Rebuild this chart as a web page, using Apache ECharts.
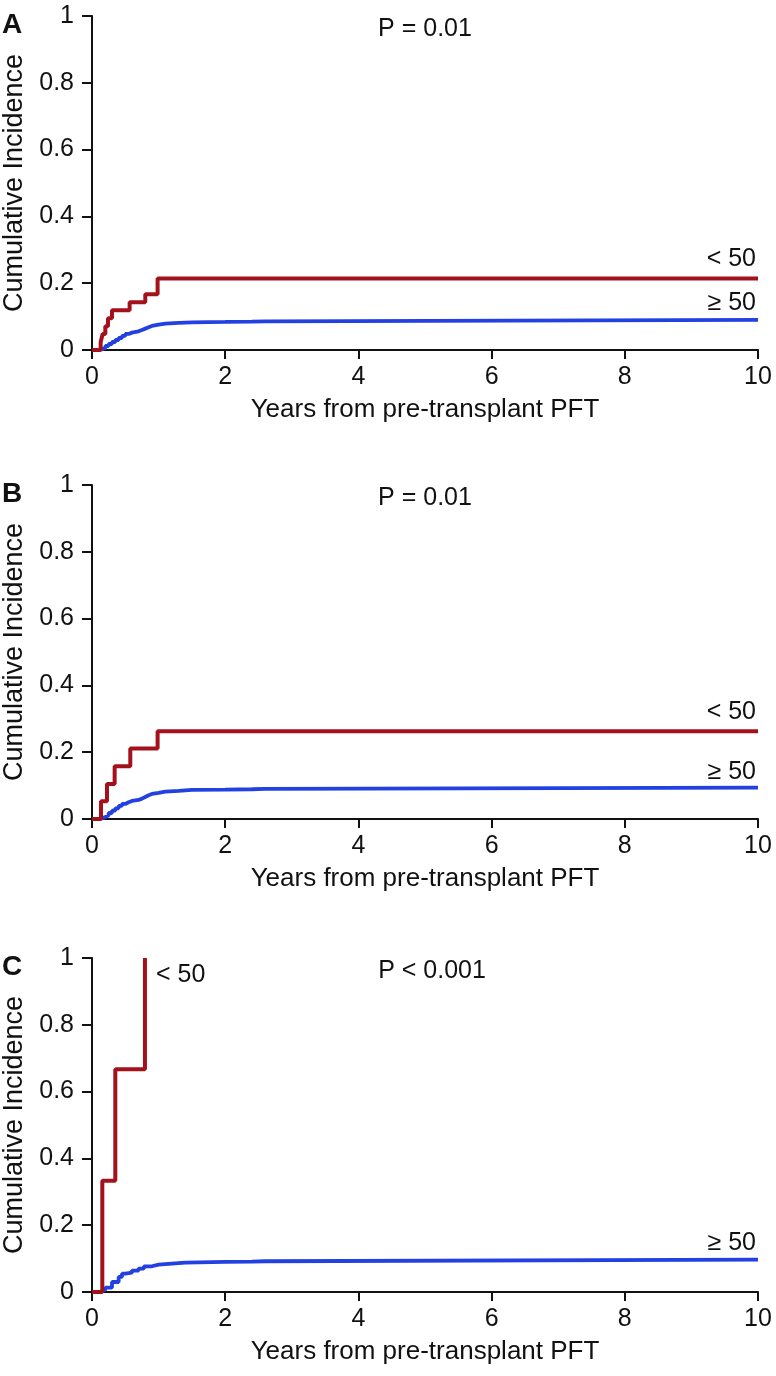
<!DOCTYPE html>
<html>
<head>
<meta charset="utf-8">
<script src="https://cdn.jsdelivr.net/npm/echarts@6/dist/echarts.min.js"></script>
<style>
html,body{margin:0;padding:0;background:#fff;}
#chart{width:776px;height:1376px;}
</style>
</head>
<body>
<div id="chart"></div>
<script>
// ---- data ----
const panelLetters = ['A', 'B', 'C'];
const pValues = ['P = 0.01', 'P = 0.01', 'P < 0.001'];
const groupLow = '< 50';
const groupHigh = '\u2265 50';
const xTicks = [0, 2, 4, 6, 8, 10];
const yTicks = [0, 0.2, 0.4, 0.6, 0.8, 1];

const aRedT = [0, 0.13, 0.16, 0.2, 0.24, 0.3, 0.565, 0.8, 0.985, 10];
const aRedV = [0, 0.024, 0.048, 0.071, 0.095, 0.119, 0.143, 0.167, 0.214, 0.214];
const aBlueT = [0, 0.1, 0.15, 0.2, 0.25, 0.3, 0.35, 0.4, 0.45, 0.5, 0.55, 0.6, 0.7, 0.75, 0.8, 0.85, 0.9, 1.0, 1.1, 1.3, 1.5, 2.0, 2.4, 2.6, 10];
const aBlueV = [0, 0.002, 0.006, 0.012, 0.018, 0.024, 0.03, 0.036, 0.042, 0.048, 0.052, 0.056, 0.06, 0.064, 0.068, 0.072, 0.076, 0.079, 0.081, 0.083, 0.084, 0.085, 0.086, 0.09, 0.09];

const bRedT = [0, 0.135, 0.225, 0.34, 0.575, 0.985, 10];
const bRedV = [0, 0.053, 0.105, 0.158, 0.211, 0.263, 0.263];
const bBlueT = [0, 0.1, 0.15, 0.2, 0.25, 0.3, 0.35, 0.4, 0.45, 0.5, 0.55, 0.6, 0.7, 0.75, 0.8, 0.85, 0.9, 1.0, 1.1, 1.3, 1.5, 2.0, 2.4, 2.6, 10];
const bBlueV = [0, 0.002, 0.006, 0.011, 0.018, 0.025, 0.032, 0.039, 0.045, 0.05, 0.054, 0.057, 0.061, 0.066, 0.071, 0.075, 0.078, 0.082, 0.084, 0.087, 0.088, 0.089, 0.09, 0.094, 0.094];

const cRedT = [0, 0.155, 0.35, 0.795];
const cRedV = [0, 0.333, 0.667, 1.0];
const cBlueT = [0, 0.1, 0.15, 0.2, 0.3, 0.4, 0.45, 0.5, 0.6, 0.7, 0.78, 0.9, 1.0, 1.2, 1.4, 2.0, 2.4, 2.6, 10];
const cBlueV = [0, 0.002, 0.007, 0.013, 0.03, 0.045, 0.055, 0.058, 0.064, 0.07, 0.077, 0.082, 0.085, 0.088, 0.09, 0.091, 0.092, 0.097, 0.097];

// ---- build ----
const RED = '#a3121c';
const BLUE = '#2340e0';
const FONT = 'Liberation Sans, Arial, sans-serif';
const FS = 25;

function zip(t, v) { return t.map((x, i) => [x, v[i]]); }

const panels = [
  {red: zip(aRedT, aRedV), blue: zip(aBlueT, aBlueV), top: 16},
  {red: zip(bRedT, bRedV), blue: zip(bBlueT, bBlueV), top: 485},
  {red: zip(cRedT, cRedV), blue: zip(cBlueT, cBlueV), top: 958}
];

const grids = [], xAxes = [], yAxes = [], series = [], titles = [];
panels.forEach((p, i) => {
  grids.push({left: 92, width: 666, top: p.top, height: 334, containLabel: false, outerBoundsMode: 'none'});
  xAxes.push({
    type: 'value', gridIndex: i, min: 0, max: 10, interval: 2,
    name: 'Years from pre-transplant PFT', nameLocation: 'middle', nameGap: 47,
    nameTextStyle: {fontSize: 26, color: '#111', fontFamily: FONT},
    axisLine: {show: true, lineStyle: {color: '#111', width: 2}},
    axisTick: {show: true, length: 9, lineStyle: {color: '#111', width: 2}},
    axisLabel: {fontSize: FS, color: '#111', fontFamily: FONT, margin: 15},
    splitLine: {show: false}
  });
  yAxes.push({
    type: 'value', gridIndex: i, min: 0, max: 1, interval: 0.2,
    name: 'Cumulative Incidence', nameLocation: 'middle', nameGap: 62,
    nameTextStyle: {fontSize: 27, color: '#111', fontFamily: FONT},
    axisLine: {show: true, lineStyle: {color: '#111', width: 2}},
    axisTick: {show: true, length: 10, lineStyle: {color: '#111', width: 2}},
    axisLabel: {fontSize: FS, color: '#111', fontFamily: FONT, margin: 18},
    splitLine: {show: false}
  });
  const lastBlue = p.blue[p.blue.length - 1];
  const lastRed = p.red[p.red.length - 1];
  series.push({
    type: 'line', xAxisIndex: i, yAxisIndex: i, step: 'end', symbol: 'none',
    data: p.blue, lineStyle: {color: BLUE, width: 3.8}, z: 2, animation: false,
    markPoint: {
      symbol: 'circle', symbolSize: 0, silent: true,
      data: [{coord: lastBlue, value: groupHigh}],
      label: {show: true, formatter: groupHigh, position: 'top', align: 'right',
        offset: [-2, i === 1 ? 2 : 1], fontSize: FS, color: '#111', fontFamily: FONT}
    }
  });
  const redLabel = i === 2
    ? {show: true, formatter: groupLow, position: 'right', align: 'left', offset: [6, 17],
       fontSize: FS, color: '#111', fontFamily: FONT}
    : {show: true, formatter: groupLow, position: 'top', align: 'right', offset: [-2, -2],
       fontSize: FS, color: '#111', fontFamily: FONT};
  series.push({
    type: 'line', xAxisIndex: i, yAxisIndex: i, step: 'end', symbol: 'none',
    data: p.red, lineStyle: {color: RED, width: 4}, z: 3, animation: false,
    markPoint: {symbol: 'circle', symbolSize: 0, silent: true,
      data: [{coord: lastRed, value: groupLow}], label: redLabel}
  });
  titles.push({text: panelLetters[i], left: -3, top: p.top - 10, padding: 5,
    textStyle: {fontSize: 28, fontWeight: 'bold', color: '#111', fontFamily: FONT}});
  titles.push({text: pValues[i], left: i === 2 ? 427 : 420, top: p.top - 4, textAlign: 'center',
    textStyle: {fontSize: FS, fontWeight: 'normal', color: '#111', fontFamily: FONT}});
});

const chart = echarts.init(document.getElementById('chart'), null, {renderer: 'canvas'});
chart.setOption({
  animation: false,
  backgroundColor: '#fff',
  title: titles,
  grid: grids,
  xAxis: xAxes,
  yAxis: yAxes,
  series: series
});
</script>
</body>
</html>
